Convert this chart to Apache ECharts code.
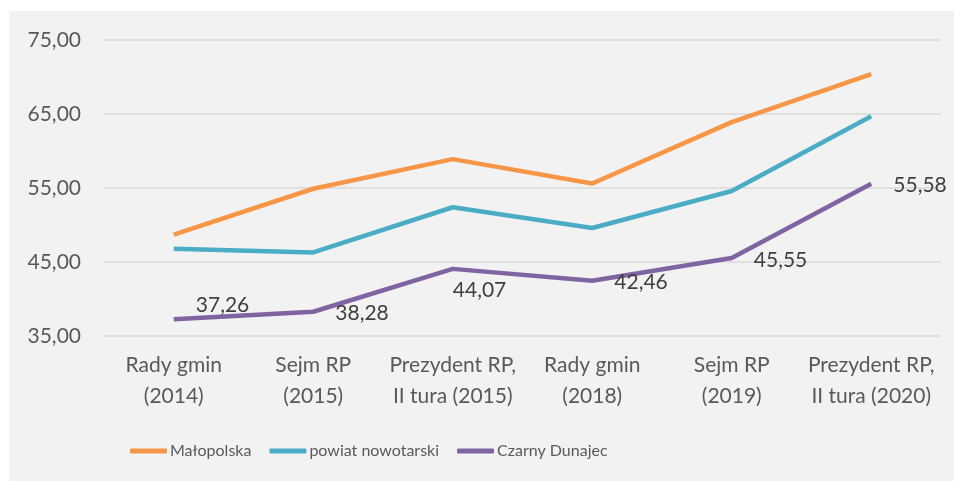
<!DOCTYPE html>
<html><head><meta charset="utf-8">
<script src="https://cdn.jsdelivr.net/npm/echarts@6/dist/echarts.min.js"></script>
<style>html,body{margin:0;padding:0;background:#fff}#c{width:954px;height:481px}</style>
</head><body><div id="c"></div>
<script>
const categories = ['Rady gmin\n(2014)','Sejm RP\n(2015)','Prezydent RP,\nII tura (2015)','Rady gmin\n(2018)','Sejm RP\n(2019)','Prezydent RP,\nII tura (2020)'];
const malopolska = [48.7, 54.9, 58.9, 55.6, 63.9, 70.4];
const powiat = [46.8, 46.3, 52.4, 49.6, 54.6, 64.7];
const czarny = [37.26, 38.28, 44.07, 42.46, 45.55, 55.58];
const yTicks = {min: 35, max: 75, interval: 10};

const labelOffsets = [[0,-14],[0,2],[-22,21],[0,1],[0,2],[0,2]];
const font = 'Lato, "Noto Sans", sans-serif';
const chart = echarts.init(document.getElementById('c'));
chart.setOption({
  backgroundColor: '#ffffff',
  animation: false,
  graphic: [{type:'rect', left: 9, top: 11, shape:{width: 945, height: 470}, style:{fill:'#f2f2f2'}, z: -10, silent: true}],
  grid: {left: 104, right: 13, top: 40, bottom: 145},
  legend: {
    left: 125, top: 438, itemWidth: 37, itemHeight: 5, itemGap: 18, icon: 'roundRect',
    textStyle: {color: '#595959', fontSize: 16, fontFamily: font, padding: [0,0,0,-2]},
    data: ['Małopolska','powiat nowotarski','Czarny Dunajec']
  },
  xAxis: {
    type: 'category', data: categories, boundaryGap: true,
    axisLine: {show: false}, axisTick: {show: false},
    axisLabel: {color: '#595959', fontSize: 21, fontFamily: font, lineHeight: 31, margin: 14, interval: 0}
  },
  yAxis: {
    type: 'value', min: yTicks.min, max: yTicks.max, interval: yTicks.interval,
    axisLine: {show: false}, axisTick: {show: false},
    splitLine: {lineStyle: {color: '#d9d9d9', width: 1.5}},
    axisLabel: {color: '#595959', fontSize: 21, fontFamily: font, margin: 23,
      formatter: v => v.toFixed(2).replace('.', ',')}
  },
  series: [
    {name: 'Małopolska', type: 'line', data: malopolska, symbol: 'none', lineStyle: {color: '#F79646', width: 4.5}, itemStyle: {color: '#F79646'}},
    {name: 'powiat nowotarski', type: 'line', data: powiat, symbol: 'none', lineStyle: {color: '#4BACC6', width: 4.5}, itemStyle: {color: '#4BACC6'}},
    {name: 'Czarny Dunajec', type: 'line', symbol: 'circle', symbolSize: 0.1, showSymbol: true,
      data: czarny.map((v, i) => ({value: v, label: {offset: labelOffsets[i]}})),
      lineStyle: {color: '#8064A2', width: 4.5}, itemStyle: {color: '#8064A2'},
      label: {show: true, position: 'right', distance: 22, color: '#404040', fontSize: 21, fontFamily: font,
        formatter: p => p.value.toFixed(2).replace('.', ',')}}
  ]
});
</script></body></html>
